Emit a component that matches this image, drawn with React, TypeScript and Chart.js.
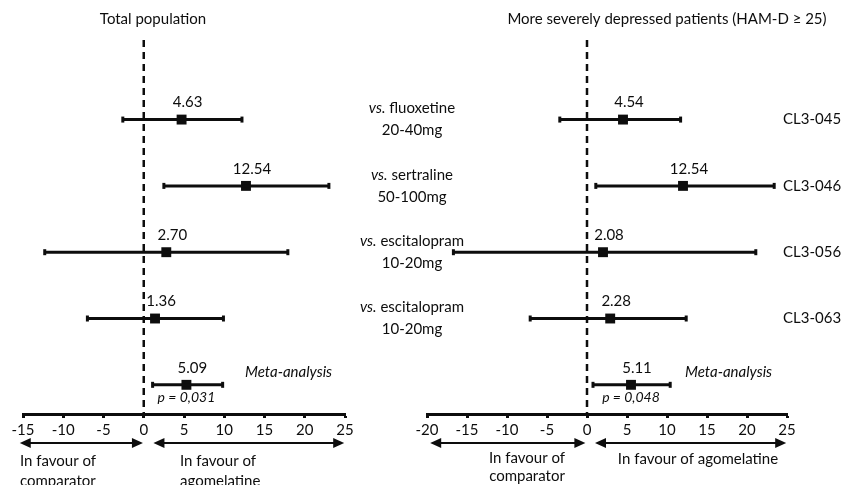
import React, { useEffect, useRef } from "react";
import { Chart, registerables } from "chart.js";
Chart.register(...registerables);

const W = 841;
const H = 485;
const FONT = "Lato, 'DejaVu Sans', sans-serif";
const INK = "#0d0d0d";

// ---- data ----
const comparators = ["fluoxetine", "sertraline", "escitalopram", "escitalopram"];
const doses = ["20-40mg", "50-100mg", "10-20mg", "10-20mg"];
const studies = ["CL3-045", "CL3-046", "CL3-056", "CL3-063"];
const rowIndex = [0, 1, 2, 3, 4]; // 4 = meta-analysis

const totalEst = [4.7, 12.7, 2.8, 1.4, 5.3];
const totalLow = [-2.6, 2.5, -12.3, -7.0, 1.1];
const totalHigh = [12.2, 23.0, 17.9, 9.9, 9.8];
const totalLabels = ["4.63", "12.54", "2.70", "1.36", "5.09"];
const totalP = "p = 0,031";
const totalRange = [-15, 25];

const sevEst = [4.5, 12.0, 2.0, 2.9, 5.5];
const sevLow = [-3.4, 1.1, -16.7, -7.1, 0.75];
const sevHigh = [11.7, 23.4, 21.1, 12.4, 10.4];
const sevLabels = ["4.54", "12.54", "2.08", "2.28", "5.11"];
const sevP = "p = 0,048";
const sevRange = [-20, 25];

const tickStep = 5;

type Panel = {
  title: string;
  titleX: number;
  est: number[];
  low: number[];
  high: number[];
  labels: string[];
  pText: string;
  range: number[];
  padLeft: number;
  padRight: number;
  metaX: number;
  arrows: number[][];
  favour: { text: string; x: number; y: number; align: CanvasTextAlign }[];
  side: "middle" | "right";
};

function drawDoubleArrow(ctx: CanvasRenderingContext2D, x1: number, x2: number, y: number) {
  const h = 11;
  const w = 5;
  ctx.lineWidth = 2;
  ctx.beginPath();
  ctx.moveTo(x1 + h - 2, y);
  ctx.lineTo(x2 - h + 2, y);
  ctx.stroke();
  ctx.beginPath();
  ctx.moveTo(x1, y);
  ctx.lineTo(x1 + h, y - w);
  ctx.lineTo(x1 + h, y + w);
  ctx.closePath();
  ctx.fill();
  ctx.beginPath();
  ctx.moveTo(x2, y);
  ctx.lineTo(x2 - h, y - w);
  ctx.lineTo(x2 - h, y + w);
  ctx.closePath();
  ctx.fill();
}

const textPlugin = {
  id: "forestText",
  afterDatasetsDraw(chart: any, _args: any, opts: any) {
    const p: Panel = opts.panel;
    const { ctx } = chart;
    const x = chart.scales.x;
    const y = chart.scales.y;
    ctx.save();
    ctx.fillStyle = INK;
    ctx.strokeStyle = INK;
    ctx.textBaseline = "middle";

    ctx.font = `15px ${FONT}`;
    ctx.textAlign = "center";
    ctx.fillText(p.title, p.titleX, 19);

    p.labels.forEach((s, i) => {
      ctx.fillText(s, x.getPixelForValue(p.est[i]) + 6, y.getPixelForValue(i) - 17);
    });

    ctx.font = `italic 15px ${FONT}`;
    ctx.textAlign = "left";
    ctx.fillText("Meta-analysis", p.metaX, y.getPixelForValue(4) - 13);
    ctx.textAlign = "center";
    ctx.font = `italic 14px ${FONT}`;
    ctx.fillText(p.pText, x.getPixelForValue(p.est[4]), y.getPixelForValue(4) + 13);

    const ay = chart.chartArea.bottom + 29;
    p.arrows.forEach(([a, b]) => drawDoubleArrow(ctx, x.getPixelForValue(a), x.getPixelForValue(b), ay));

    ctx.font = `15px ${FONT}`;
    p.favour.forEach((f) => {
      ctx.textAlign = f.align;
      ctx.fillText(f.text, f.x, f.y);
    });

    if (p.side === "middle") {
      const cx = 412;
      comparators.forEach((c, i) => {
        const ry = y.getPixelForValue(i);
        ctx.font = `italic 15px ${FONT}`;
        const vs = "vs.";
        const vw = ctx.measureText(vs).width;
        ctx.font = `15px ${FONT}`;
        const rest = " " + c;
        const rw = ctx.measureText(rest).width;
        const start = cx - (vw + rw) / 2;
        ctx.textAlign = "left";
        ctx.font = `italic 15px ${FONT}`;
        ctx.fillText(vs, start, ry - 11);
        ctx.font = `15px ${FONT}`;
        ctx.fillText(rest, start + vw, ry - 11);
        ctx.textAlign = "center";
        ctx.fillText(doses[i], cx, ry + 11);
      });
    } else {
      ctx.font = `15px ${FONT}`;
      ctx.textAlign = "left";
      studies.forEach((s, i) => {
        ctx.fillText(s, 783, y.getPixelForValue(i));
      });
    }
    ctx.restore();
  },
};

function makeConfig(p: Panel): any {
  const ciSets = rowIndex.map((i) => ({
    data: [
      { x: p.low[i], y: i },
      { x: p.high[i], y: i },
    ],
    showLine: true,
    borderColor: INK,
    borderWidth: 3,
    pointStyle: "line",
    rotation: 90,
    pointRadius: 3,
    pointBorderWidth: 3,
    pointBorderColor: INK,
    pointBackgroundColor: INK,
  }));
  return {
    type: "scatter",
    data: {
      datasets: [
        {
          data: [
            { x: 0, y: -1.2 },
            { x: 0, y: 4.44 },
          ],
          showLine: true,
          borderColor: INK,
          borderWidth: 2.5,
          borderDash: [7, 5],
          pointRadius: 0,
        },
        ...ciSets,
        {
          data: rowIndex.map((i) => ({ x: p.est[i], y: i })),
          pointStyle: "rect",
          pointRadius: 7,
          pointBackgroundColor: INK,
          pointBorderColor: INK,
          pointBorderWidth: 0,
        },
      ],
    },
    options: {
      animation: false,
      responsive: false,
      devicePixelRatio: 1,
      layout: { padding: { left: p.padLeft, right: p.padRight, top: 40, bottom: 43 } },
      plugins: {
        legend: { display: false },
        tooltip: { enabled: false },
        forestText: { panel: p },
      },
      scales: {
        x: {
          type: "linear",
          min: p.range[0],
          max: p.range[1],
          ticks: {
            stepSize: tickStep,
            color: INK,
            font: { family: FONT, size: 15 },
            padding: 3,
          },
          grid: {
            drawOnChartArea: false,
            drawTicks: true,
            tickLength: 4,
            tickWidth: 3,
            color: INK,
          },
          border: { display: true, color: INK, width: 3 },
        },
        y: {
          type: "linear",
          min: -1.2,
          max: 4.44,
          reverse: true,
          display: false,
        },
      },
    },
    plugins: [textPlugin],
  };
}

const leftPanel: Panel = {
  title: "Total population",
  titleX: 153,
  est: totalEst,
  low: totalLow,
  high: totalHigh,
  labels: totalLabels,
  pText: totalP,
  range: totalRange,
  padLeft: 23,
  padRight: W - 345,
  metaX: 245,
  arrows: [
    [-15.4, -0.1],
    [1.2, 24.9],
  ],
  favour: [
    { text: "In favour of", x: 20, y: 461, align: "left" },
    { text: "comparator", x: 20, y: 481, align: "left" },
    { text: "In favour of", x: 180, y: 461, align: "left" },
    { text: "agomelatine", x: 180, y: 481, align: "left" },
  ],
  side: "middle",
};

const rightPanel: Panel = {
  title: "More severely depressed patients (HAM-D \u2265 25)",
  titleX: 667,
  est: sevEst,
  low: sevLow,
  high: sevHigh,
  labels: sevLabels,
  pText: sevP,
  range: sevRange,
  padLeft: 427,
  padRight: W - 787,
  metaX: 685,
  arrows: [
    [-19.6, -0.2],
    [1.0, 24.9],
  ],
  favour: [
    { text: "In favour of", x: 527, y: 458, align: "center" },
    { text: "comparator", x: 527, y: 476, align: "center" },
    { text: "In favour of agomelatine", x: 698, y: 459, align: "center" },
  ],
  side: "right",
};

function ChartCanvas({ panel }: { panel: Panel }) {
  const ref = useRef<HTMLCanvasElement | null>(null);
  useEffect(() => {
    if (!ref.current) return;
    const chart = new Chart(ref.current, makeConfig(panel));
    return () => chart.destroy();
  }, [panel]);
  return (
    <canvas
      ref={ref}
      width={W}
      height={H}
      style={{ position: "absolute", left: 0, top: 0, width: W, height: H }}
    />
  );
}

export default function App() {
  return (
    <div style={{ position: "absolute", left: 0, top: 0, width: W, height: H, background: "#fff", overflow: "hidden" }}>
      <ChartCanvas panel={leftPanel} />
      <ChartCanvas panel={rightPanel} />
    </div>
  );
}
